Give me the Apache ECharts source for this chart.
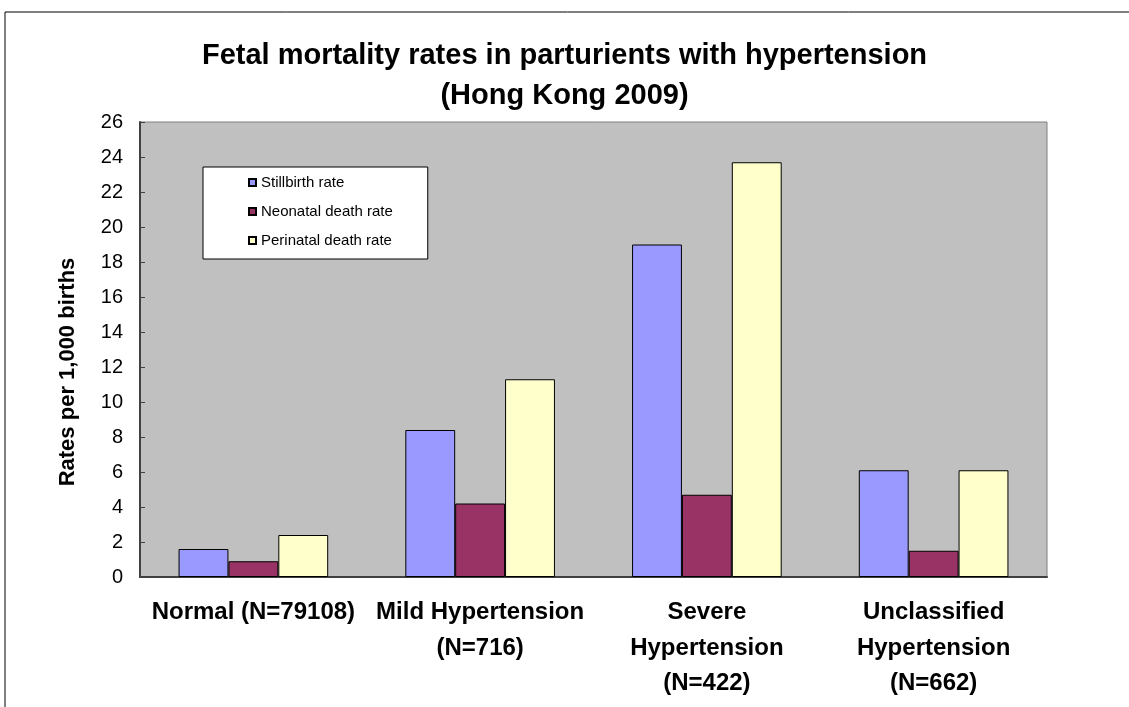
<!DOCTYPE html>
<html><head><meta charset="utf-8">
<script src="https://cdn.jsdelivr.net/npm/echarts@6/dist/echarts.min.js"></script>
<style>html,body{margin:0;padding:0;background:#fff}#c{width:1129px;height:707px}</style>
</head><body><div id="c"></div>
<script>
const categories = ['Normal (N=79108)', 'Mild Hypertension\n(N=716)', 'Severe\nHypertension\n(N=422)', 'Unclassified\nHypertension\n(N=662)'];
const stillbirth = [1.6, 8.4, 19.0, 6.1];
const neonatal = [0.9, 4.2, 4.7, 1.5];
const perinatal = [2.4, 11.3, 23.7, 6.1];
const seriesNames = ['Stillbirth rate', 'Neonatal death rate', 'Perinatal death rate'];
const titleLines = ['Fetal mortality rates in parturients with hypertension', '(Hong Kong 2009)'];
const yAxisName = 'Rates per 1,000 births';

const chart = echarts.init(document.getElementById('c'), null, {renderer: 'canvas'});
const font = 'Liberation Sans, Arial, sans-serif';
function bar(name, data, color) {
  return {
    name, type: 'bar', data, barGap: '0%', barCategoryGap: '34%',
    itemStyle: {color, borderColor: '#000', borderWidth: 1},
    emphasis: {disabled: true}
  };
}
chart.setOption({
  animation: false,
  textStyle: {fontFamily: font},
  graphic: [
    {type: 'rect', shape: {x: 5, y: 12, width: 1300, height: 900}, style: {fill: 'none', stroke: '#000', lineWidth: 1}, silent: true, z: -10},
    {type: 'text', x: 68, y: 372, rotation: Math.PI / 2, silent: true,
     style: {text: yAxisName, fontFamily: font, fontSize: 22, fontWeight: 'bold', fill: '#000', textAlign: 'center', textVerticalAlign: 'middle'}}
  ],
  title: {
    text: titleLines.join('\n'), left: 'center', top: 36, padding: [0, 0, 0, 17],
    textStyle: {fontFamily: font, fontSize: 29, fontWeight: 'bold', color: '#000', lineHeight: 40}
  },
  legend: {
    orient: 'vertical', left: 203, top: 167,
    backgroundColor: '#fff', borderColor: '#000', borderWidth: 1,
    padding: [8, 35, 11, 45], itemGap: 14, itemWidth: 7, itemHeight: 7, icon: 'rect',
    textStyle: {fontFamily: font, fontSize: 15, color: '#000'},
    data: seriesNames
  },
  grid: {left: 140, right: 82, top: 122, bottom: 130, show: true, backgroundColor: '#C0C0C0', borderColor: '#808080', borderWidth: 1},
  xAxis: {
    type: 'category', data: categories,
    axisLine: {lineStyle: {color: '#404040', width: 2}},
    axisTick: {inside: true, length: 7, lineStyle: {color: '#404040'}},
    axisLabel: {fontFamily: font, fontSize: 24, fontWeight: 'bold', color: '#000', lineHeight: 35.5, margin: 18, interval: 0}
  },
  yAxis: {
    type: 'value', min: 0, max: 26, interval: 2,
    axisLine: {show: true, lineStyle: {color: '#404040', width: 2}},
    axisTick: {show: true, inside: true, length: 5, lineStyle: {color: '#404040'}},
    splitLine: {show: false},
    axisLabel: {fontFamily: font, fontSize: 20, color: '#000', margin: 17}
  },
  series: [
    bar(seriesNames[0], stillbirth, '#9999FF'),
    bar(seriesNames[1], neonatal, '#993366'),
    bar(seriesNames[2], perinatal, '#FFFFCC')
  ]
});
</script></body></html>
